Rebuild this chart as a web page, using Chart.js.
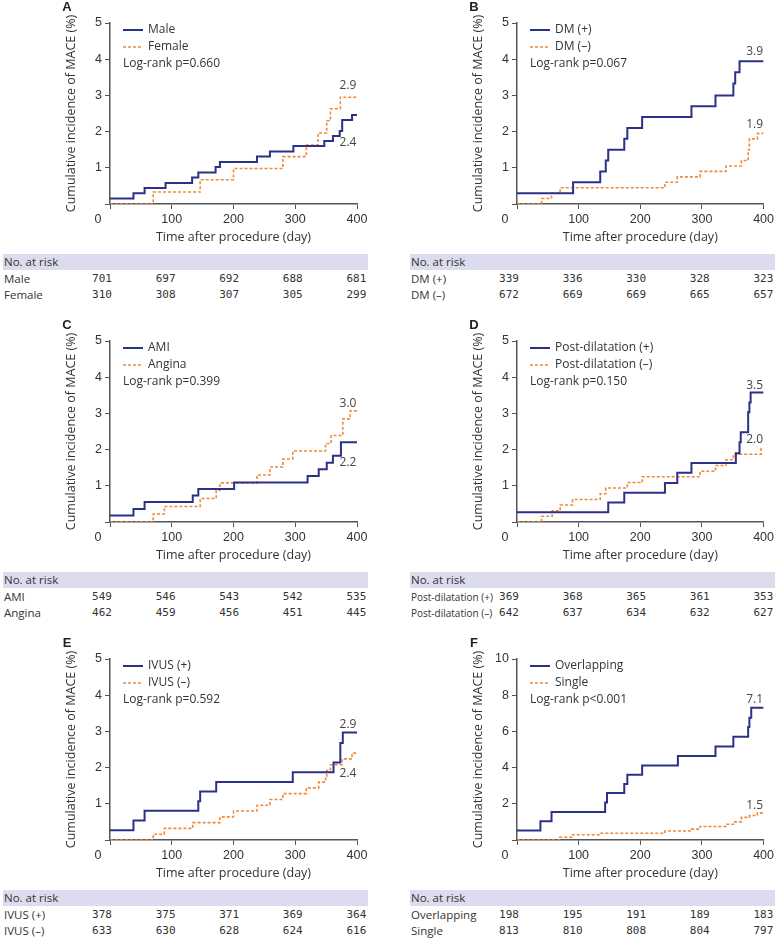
<!DOCTYPE html>
<html><head><meta charset="utf-8">
<script src="https://cdn.jsdelivr.net/npm/chart.js@4/dist/chart.umd.min.js"></script>
<style>
html,body{margin:0;padding:0;background:#fff;}
body{width:777px;height:941px;overflow:hidden;position:relative;}
.panel{position:absolute;height:310px;}
.panel canvas{position:absolute;left:0;top:0;}
.band{position:absolute;top:254px;height:16px;background:#dcdcee;color:#333;font-family:"Open Sans",sans-serif;font-size:11.5px;line-height:16px;padding-left:1px;box-sizing:border-box;}
.rlab{position:absolute;color:#333;font-family:"Open Sans",sans-serif;font-size:11.5px;line-height:14px;white-space:nowrap;}
.rlab.small{font-size:10px;}
.num{position:absolute;color:#333;font-family:"DejaVu Sans Mono",monospace;font-size:11px;line-height:14px;transform:translateX(-50%);}
</style></head><body>
<script>
// ---------- data ----------
const riskDays = [0, 100, 200, 300, 400];

// A: sex
const maleT   = [0, 38, 56, 90, 133, 143, 171, 178, 238, 259, 297, 347, 361, 372, 376, 392, 400];
const maleY   = [0.15, 0.30, 0.44, 0.58, 0.73, 0.87, 1.02, 1.16, 1.31, 1.45, 1.60, 1.74, 1.88, 2.02, 2.32, 2.46, 2.46];
const femaleT = [0, 70, 146, 200, 280, 318, 337, 351, 357, 373, 400];
const femaleY = [0, 0.33, 0.67, 0.98, 1.31, 1.63, 1.96, 2.30, 2.63, 2.95, 2.95];
const maleRisk   = [701, 697, 692, 688, 681];
const femaleRisk = [310, 308, 307, 305, 299];

// B: diabetes
const dmPosT = [0, 91, 135, 144, 148, 174, 179, 203, 283, 322, 351, 354, 361, 400];
const dmPosY = [0.30, 0.60, 0.90, 1.20, 1.50, 1.80, 2.10, 2.40, 2.70, 3.00, 3.33, 3.64, 3.94, 3.94];
const dmNegT = [0, 40, 56, 70, 240, 260, 297, 339, 364, 375, 377, 390, 400];
const dmNegY = [0, 0.15, 0.30, 0.45, 0.60, 0.75, 0.90, 1.05, 1.20, 1.50, 1.80, 1.95, 1.95];
const dmPosRisk = [339, 336, 330, 328, 323];
const dmNegRisk = [672, 669, 669, 665, 657];

// C: presentation
const amiT = [0, 38, 56, 134, 143, 201, 320, 338, 351, 361, 374, 400];
const amiY = [0.18, 0.36, 0.55, 0.73, 0.91, 1.09, 1.27, 1.46, 1.64, 1.83, 2.20, 2.20];
const anginaT = [0, 70, 88, 146, 172, 178, 238, 259, 280, 296, 349, 358, 377, 389, 400];
const anginaY = [0, 0.22, 0.43, 0.65, 0.87, 1.08, 1.30, 1.52, 1.74, 1.96, 2.17, 2.39, 2.85, 3.07, 3.07];
const amiRisk    = [549, 546, 543, 542, 535];
const anginaRisk = [462, 459, 456, 451, 445];

// D: post-dilatation
const pdPosT = [0, 148, 174, 240, 260, 283, 355, 361, 363, 375, 377, 379, 400];
const pdPosY = [0.27, 0.54, 0.81, 1.08, 1.36, 1.63, 1.90, 2.20, 2.48, 3.03, 3.30, 3.58, 3.58];
const pdNegT = [0, 40, 57, 70, 90, 135, 144, 179, 203, 297, 322, 339, 351, 396, 400];
const pdNegY = [0, 0.16, 0.31, 0.47, 0.62, 0.78, 0.94, 1.09, 1.25, 1.40, 1.56, 1.72, 1.87, 2.03, 2.03];
const pdPosRisk = [369, 368, 365, 361, 353];
const pdNegRisk = [642, 637, 634, 632, 627];

// E: IVUS
const ivPosT = [0, 38, 56, 143, 146, 172, 296, 362, 373, 377, 400];
const ivPosY = [0.27, 0.54, 0.81, 1.07, 1.34, 1.60, 1.87, 2.14, 2.68, 2.97, 2.97];
const ivNegT = [0, 70, 88, 134, 178, 200, 238, 259, 280, 318, 338, 349, 351, 357, 376, 392, 400];
const ivNegY = [0, 0.16, 0.32, 0.48, 0.64, 0.80, 0.96, 1.12, 1.28, 1.44, 1.60, 1.76, 1.92, 2.08, 2.24, 2.40, 2.40];
const ivPosRisk = [378, 375, 371, 369, 364];
const ivNegRisk = [633, 630, 628, 624, 616];

// F: overlapping
const overT = [0, 38, 56, 143, 146, 174, 179, 203, 261, 322, 351, 375, 377, 380, 400];
const overY = [0.52, 1.04, 1.55, 2.07, 2.59, 3.10, 3.60, 4.12, 4.64, 5.16, 5.70, 6.24, 6.76, 7.30, 7.30];
const singleT = [0, 69, 90, 135, 240, 283, 297, 339, 353, 364, 377, 390, 400];
const singleY = [0, 0.15, 0.29, 0.37, 0.50, 0.60, 0.75, 0.87, 1.00, 1.25, 1.35, 1.50, 1.50];
const overRisk   = [198, 195, 191, 189, 183];
const singleRisk = [813, 810, 808, 804, 797];

const panelLetters = ['A', 'B', 'C', 'D', 'E', 'F'];
const seriesNames = [
  ['Male', 'Female'], ['DM (+)', 'DM (\u2013)'], ['AMI', 'Angina'],
  ['Post-dilatation (+)', 'Post-dilatation (\u2013)'], ['IVUS (+)', 'IVUS (\u2013)'], ['Overlapping', 'Single']
];
const pValues = ['Log-rank p=0.660', 'Log-rank p=0.067', 'Log-rank p=0.399', 'Log-rank p=0.150', 'Log-rank p=0.592', 'Log-rank p<0.001'];
const yMaxes  = [5, 5, 5, 5, 5, 10];
const ySteps  = [1, 1, 1, 1, 1, 2];
const endTexts = [['2.4', '2.9'], ['3.9', '1.9'], ['2.2', '3.0'], ['3.5', '2.0'], ['2.9', '2.4'], ['7.1', '1.5']];

// ---------- layout / styling ----------
const NAVY = '#2c3188', ORANGE = '#f08a3a';
const TICKFONT = '"Liberation Sans", Arial, sans-serif';
const endOffsets = [[28, -12], [-9.5, -9], [20, -7], [-7, -9], [-8, 20], [-8, -7.5]];
const seriesT = [[maleT, femaleT], [dmPosT, dmNegT], [amiT, anginaT], [pdPosT, pdNegT], [ivPosT, ivNegT], [overT, singleT]];
const seriesY = [[maleY, femaleY], [dmPosY, dmNegY], [amiY, anginaY], [pdPosY, pdNegY], [ivPosY, ivNegY], [overY, singleY]];
const risks   = [[maleRisk, femaleRisk], [dmPosRisk, dmNegRisk], [amiRisk, anginaRisk], [pdPosRisk, pdNegRisk], [ivPosRisk, ivNegRisk], [overRisk, singleRisk]];

const deco = {
  id: 'deco',
  afterDraw(chart, args, o) {
    const ctx = chart.ctx;
    const {left, top, right, bottom} = chart.chartArea;
    const ys = chart.scales.y;
    ctx.save();
    ctx.textBaseline = 'middle';
    ctx.fillStyle = '#222';
    ctx.textAlign = 'center';
    ctx.font = 'bold 13px ' + TICKFONT;
    ctx.fillText(o.letter, left - 43, top - 16);
    ctx.fillStyle = '#333';
    ctx.font = '12.5px ' + TICKFONT;
    ctx.fillText('0', left - 12, bottom + 15.5);
    ctx.font = '12px "Open Sans", sans-serif';
    chart.data.datasets.forEach((ds, i) => {
      const y = top + 7 + i * 17;
      ctx.beginPath();
      ctx.strokeStyle = ds.borderColor;
      ctx.lineWidth = ds.borderWidth;
      ctx.setLineDash(ds.borderDash || []);
      ctx.moveTo(left + 13, y); ctx.lineTo(left + 33, y);
      ctx.stroke();
      ctx.setLineDash([]);
      ctx.textAlign = 'left';
      ctx.fillStyle = '#333';
      ctx.fillText(ds.label, left + 38, y);
    });
    ctx.textAlign = 'left';
    ctx.fillText(o.pText, left + 13, top + 41);
    ctx.fillStyle = '#444';
    ctx.textAlign = 'center';
    chart.data.datasets.forEach((ds, i) => {
      const last = ds.data[ds.data.length - 1].y;
      ctx.fillText(o.ends[i], right - 9, ys.getPixelForValue(last) + o.offs[i]);
    });
    ctx.restore();
  }
};

const panelTops = [0, 0, 318, 318, 636, 636];
panelLetters.forEach((letter, p) => {
  const isRight = p % 2 === 1;
  const pLeft = isRight ? 388 : 0;
  const width = isRight ? 389 : 388;
  const axisW = isRight ? 129 : 110;
  const padR = isRight ? 13 : 31;
  const div = document.createElement('div');
  div.className = 'panel';
  div.style.left = pLeft + 'px';
  div.style.top = panelTops[p] + 'px';
  div.style.width = width + 'px';
  document.body.appendChild(div);
  const cv = document.createElement('canvas');
  cv.width = width; cv.height = 250;
  cv.style.width = width + 'px'; cv.style.height = '250px';
  div.appendChild(cv);

  const datasets = [0, 1].map(s => ({
    label: seriesNames[p][s],
    data: seriesT[p][s].map((t, k) => ({x: t, y: seriesY[p][s][k]})),
    borderColor: s === 0 ? NAVY : ORANGE,
    borderWidth: s === 0 ? 2 : 1.6,
    borderDash: s === 0 ? [] : [3, 2],
    stepped: 'before',
    pointRadius: 0,
    fill: false,
    tension: 0
  }));

  new Chart(cv, {
    type: 'line',
    data: {datasets},
    options: {
      responsive: false, animation: false, devicePixelRatio: 1,
      layout: {padding: {top: 23, right: padR, left: 0, bottom: 0}},
      plugins: {
        legend: {display: false}, tooltip: {enabled: false},
        deco: {letter, pText: pValues[p], ends: endTexts[p], offs: endOffsets[p]}
      },
      scales: {
        x: {
          type: 'linear', min: 0, max: 400,
          ticks: {stepSize: 100, autoSkip: false, maxRotation: 0, padding: 3, color: '#333',
                  font: {family: TICKFONT, size: 12.5}, callback: v => v === 0 ? '' : v},
          grid: {drawOnChartArea: false, drawTicks: true, tickLength: 5, color: '#555', lineWidth: 1},
          border: {display: true, color: '#555', width: 1.5},
          title: {display: true, text: 'Time after procedure (day)', color: '#333',
                  font: {family: '"Open Sans", sans-serif', size: 12.5}, padding: {top: 0, bottom: 5}},
          afterFit: s => { s.height = 46; }
        },
        y: {
          min: 0, max: yMaxes[p],
          ticks: {stepSize: ySteps[p], padding: 3, color: '#333',
                  font: {family: TICKFONT, size: 12.5}, callback: v => v === 0 ? '' : v},
          grid: {drawOnChartArea: false, drawTicks: true, tickLength: 5, color: '#555', lineWidth: 1},
          border: {display: true, color: '#555', width: 1.5},
          title: {display: true, text: 'Cumulative incidence of MACE (%)', color: '#333',
                  font: {family: '"Open Sans", sans-serif', size: 12.5},
                  padding: {top: axisW - 46, bottom: 0}},
          afterFit: s => { s.width = axisW; }
        }
      }
    },
    plugins: [deco]
  });

  // risk table
  const band = document.createElement('div');
  band.className = 'band';
  band.style.left = (axisW - 107) + 'px';
  band.style.width = '365px';
  band.textContent = 'No. at risk';
  div.appendChild(band);
  [0, 1].forEach(s => {
    const rowY = s === 0 ? 271.5 : 288;
    const lab = document.createElement('div');
    lab.className = 'rlab' + (p === 3 ? ' small' : '');
    lab.style.left = (axisW - 106) + 'px';
    lab.style.top = rowY + 'px';
    lab.textContent = seriesNames[p][s];
    div.appendChild(lab);
    riskDays.forEach((d, k) => {
      const n = document.createElement('div');
      n.className = 'num';
      n.style.left = (axisW - 8 + k * 63.6) + 'px';
      n.style.top = rowY + 'px';
      n.textContent = risks[p][s][k];
      div.appendChild(n);
    });
  });
});
</script>
</body></html>
